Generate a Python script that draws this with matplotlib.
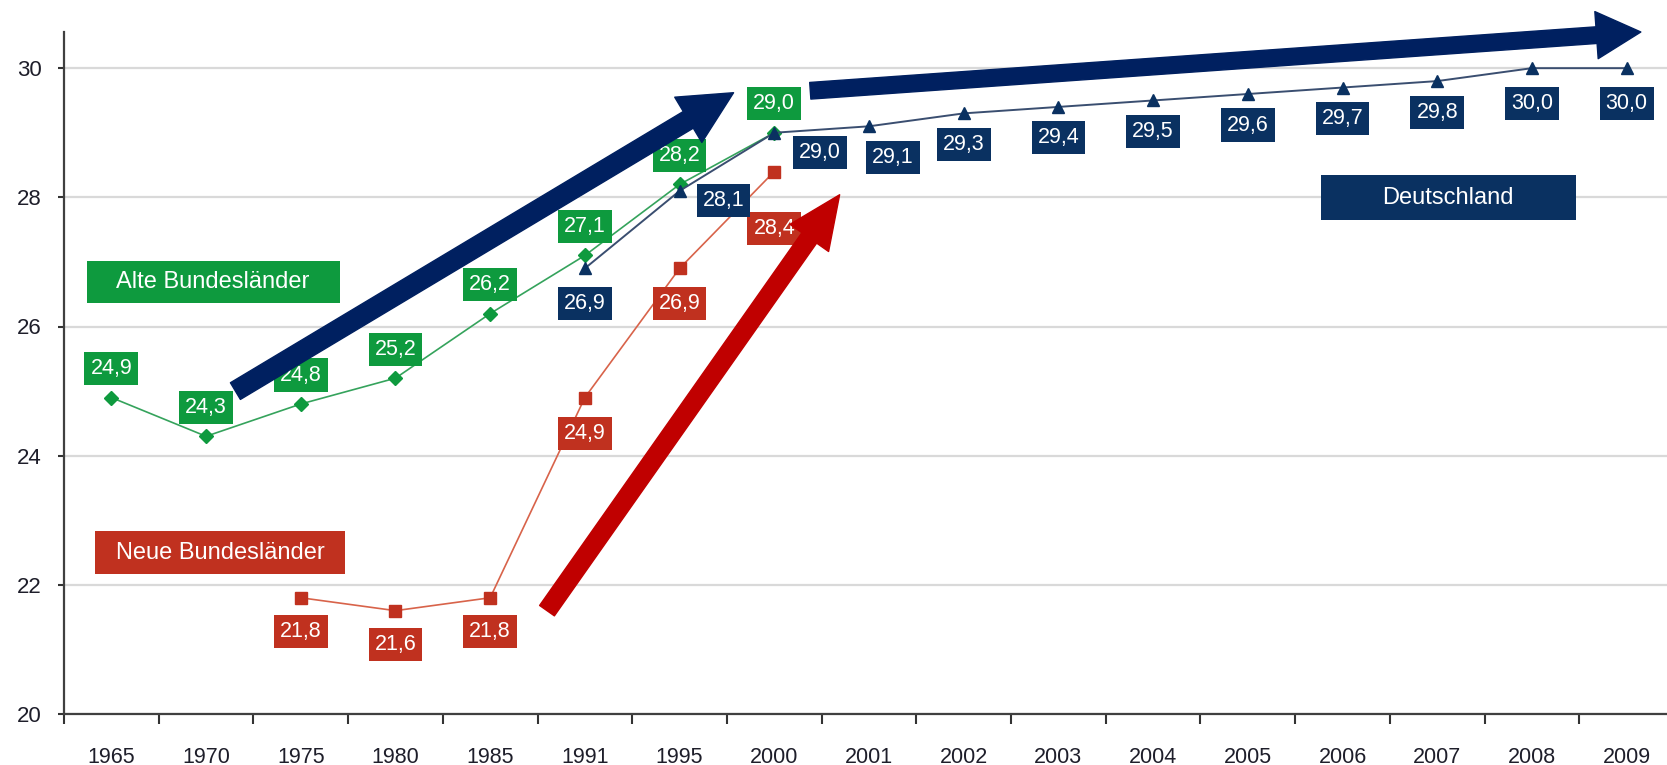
import matplotlib
matplotlib.use("Agg")
import matplotlib.pyplot as plt
from matplotlib.patches import Rectangle

plt.rcParams['font.family'] = ['Liberation Sans', 'DejaVu Sans']

#--data (Durchschnittsalter der Mütter bei Geburt)
years = ["1965", "1970", "1975", "1980", "1985", "1991", "1995", "2000", "2001",
         "2002", "2003", "2004", "2005", "2006", "2007", "2008", "2009"]

alte_years = ["1965", "1970", "1975", "1980", "1985", "1991", "1995", "2000"]
alte_vals = [24.9, 24.3, 24.8, 25.2, 26.2, 27.1, 28.2, 29.0]

neue_years = ["1975", "1980", "1985", "1991", "1995", "2000"]
neue_vals = [21.8, 21.6, 21.8, 24.9, 26.9, 28.4]

de_years = ["1991", "1995", "2000", "2001", "2002", "2003", "2004", "2005",
            "2006", "2007", "2008", "2009"]
de_vals = [26.9, 28.1, 29.0, 29.1, 29.3, 29.4, 29.5, 29.6, 29.7, 29.8, 30.0, 30.0]

green = '#0E9A3E'
red = '#C0311F'
navy = '#0A3161'
arrow_navy = '#002060'
arrow_red = '#C00000'

fig = plt.figure(figsize=(16.67, 7.65), dpi=100)
ax = fig.add_axes([64/1667, 51/765, (1674-64)/1667, (733-51)/765])

def xpos(yrs):
    return [years.index(y) for y in yrs]

def fmt(v):
    return f"{v:.1f}".replace('.', ',')

ax.plot(xpos(alte_years), alte_vals, color='#35A35C', lw=1.2, marker='D',
        ms=7, mfc=green, mec=green, zorder=3)
ax.plot(xpos(neue_years), neue_vals, color='#D8634A', lw=1.2, marker='s',
        ms=8.5, mfc=red, mec=red, zorder=3)
ax.plot(xpos(de_years), de_vals, color='#3A4E70', lw=1.4, marker='^',
        ms=8, mfc=navy, mec=navy, zorder=3)

#--value labels (offsets in pixels)
alte_off = [(0, 29)] * len(alte_vals)
neue_off = [(0, -34), (0, -34), (0, -34), (0, -36), (0, -35), (0, -57)]
de_off = [(0, -35), (44, -10), (46, -20), (24, -31)] + [(0, -31)] * 6 + [(0, -35), (0, -35)]

def labels(yrs, vals, offs, col):
    for x, v, o in zip(xpos(yrs), vals, offs):
        ax.annotate(fmt(v), (x, v), xytext=o, textcoords='offset pixels',
                    ha='center', va='center', color='white', fontsize=15.5,
                    bbox=dict(boxstyle='square,pad=0.28', fc=col, ec='none'),
                    zorder=5, annotation_clip=False)

labels(alte_years, alte_vals, alte_off, green)
labels(neue_years, neue_vals, neue_off, red)
labels(de_years, de_vals, de_off, navy)

#--series name boxes
def name_box(x0, x1, y0, y1, col, txt):
    ax.add_patch(Rectangle((x0, y0), x1-x0, y1-y0, fc=col, ec='none', zorder=4))
    ax.text((x0+x1)/2, (y0+y1)/2, txt, ha='center', va='center', color='white',
            fontsize=17, zorder=5)

name_box(-0.26, 2.41, 26.37, 27.02, green, "Alte Bundesländer")
name_box(-0.17, 2.47, 22.17, 22.83, red, "Neue Bundesländer")
name_box(12.77, 15.46, 27.65, 28.34, navy, "Deutschland")

#--trend arrows
def arrow(start, tip, col, hl, hw, tw):
    ax.annotate("", xy=tip, xytext=start,
                arrowprops=dict(arrowstyle=f"simple,head_length={hl},head_width={hw},tail_width={tw}",
                                mutation_scale=20, color=col, shrinkA=0, shrinkB=0),
                zorder=6, annotation_clip=False)

arrow((1.31, 25.0), (6.57, 29.62), arrow_navy, 1.9, 1.9, 0.7)
arrow((7.38, 29.65), (16.15, 30.56), arrow_navy, 1.6, 1.7, 0.6)
arrow((4.60, 21.6), (7.69, 28.04), arrow_red, 1.9, 1.7, 0.65)

#--axes
ax.set_xlim(-0.5, 16.5)
ax.set_ylim(20, 30.56)
ax.set_yticks([20, 22, 24, 26, 28, 30])
ax.set_xticks(range(len(years)))
ax.set_xticklabels(years)
ax.set_xticks([i - 0.5 for i in range(len(years) + 1)], minor=True)
ax.tick_params(axis='x', which='major', length=0, pad=24, labelsize=15.5, labelcolor='#1E1E2A')
ax.tick_params(axis='x', which='minor', length=7, width=1.5, color='#333333')
ax.tick_params(axis='y', length=4, width=1.5, color='#333333', pad=12, labelsize=16,
               labelcolor='#1E1E2A')
ax.grid(axis='y', color='#D9D9D9', lw=1.6, zorder=0)
ax.set_axisbelow(True)
for s in ['top', 'right']:
    ax.spines[s].set_visible(False)
for s in ['left', 'bottom']:
    ax.spines[s].set_color('#404040')
    ax.spines[s].set_linewidth(1.6)

fig.savefig("out.png", dpi=100)
